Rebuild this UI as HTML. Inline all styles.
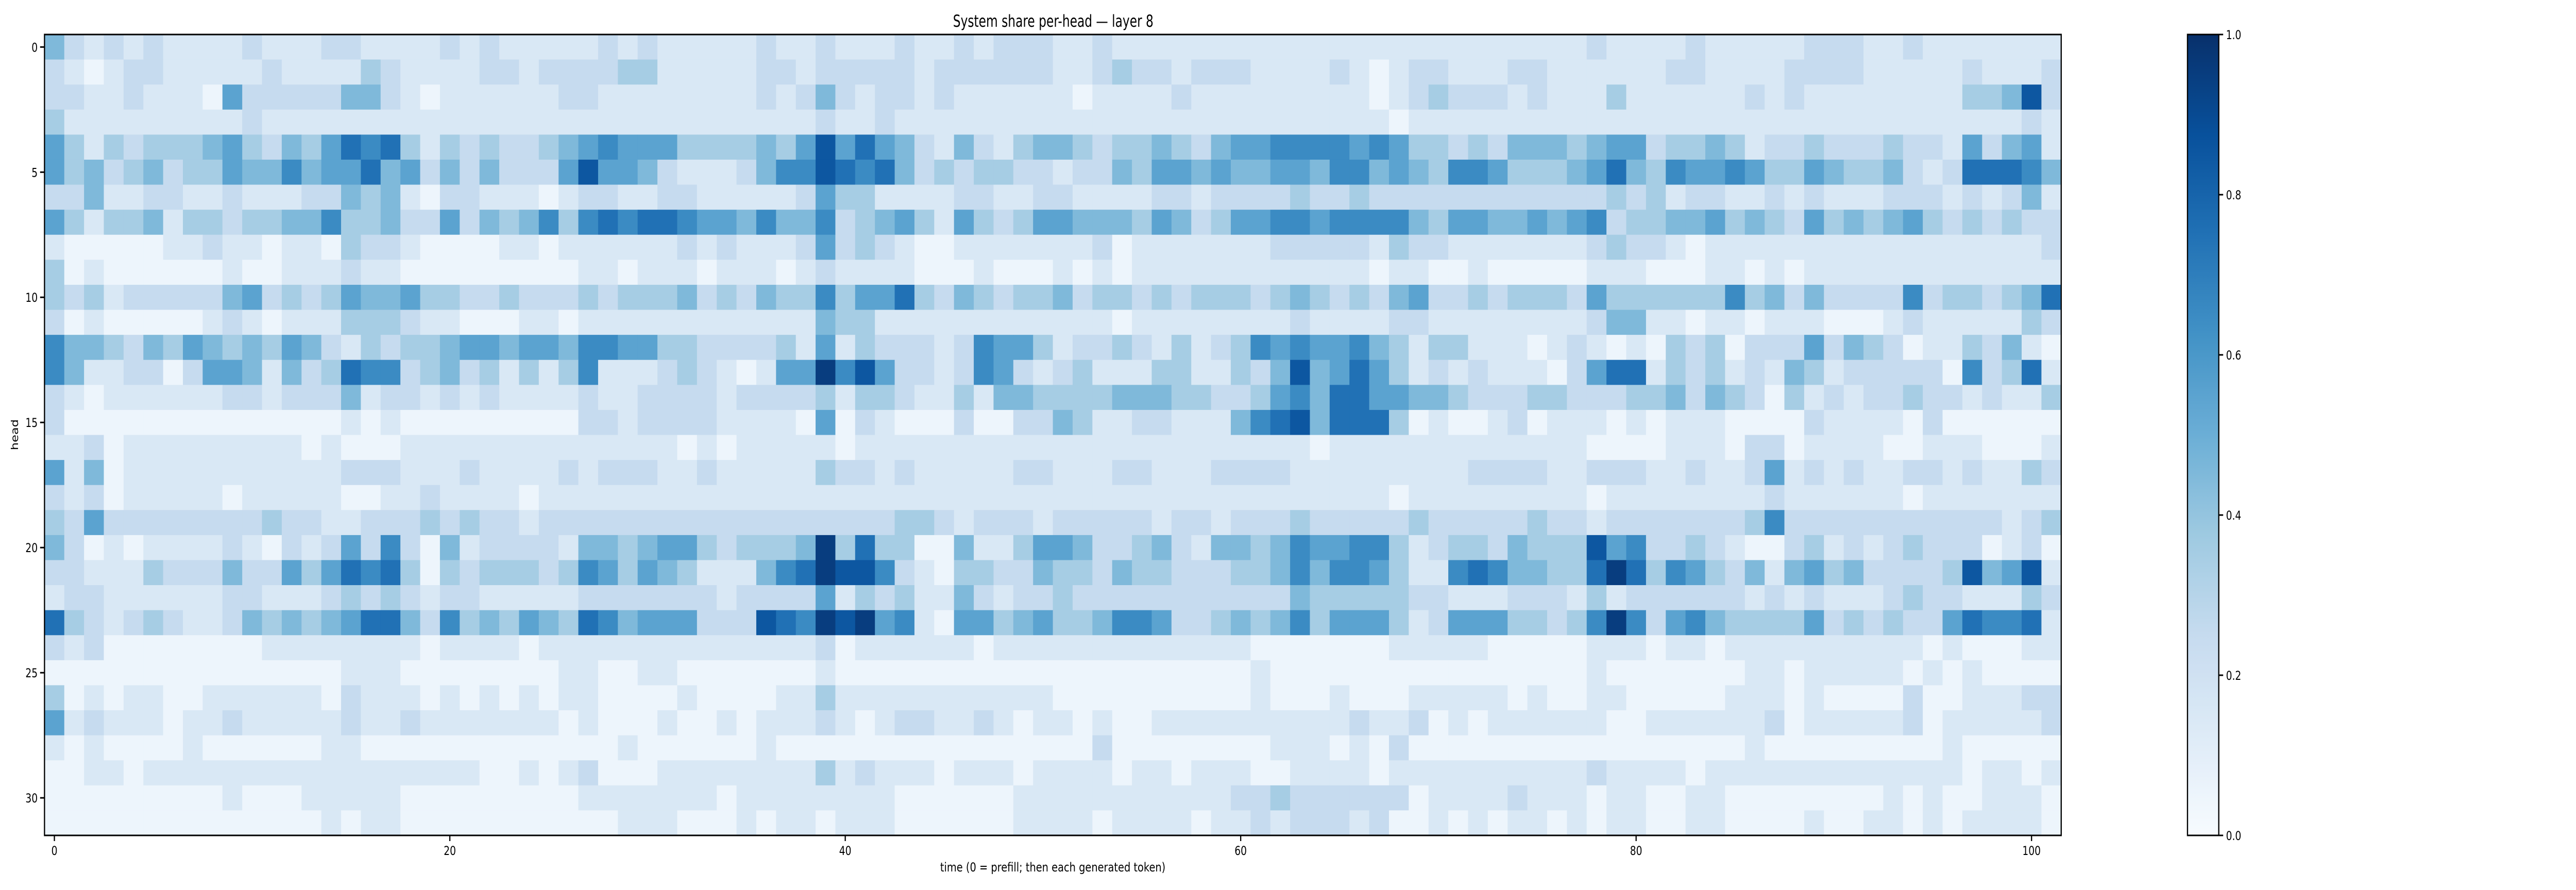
<!DOCTYPE html>
<html><head><meta charset="utf-8"><title>System share per-head — layer 8</title>
<style>html,body{margin:0;padding:0;background:#fff;overflow:hidden;width:100%;height:100%;}svg{display:block;width:100vw;height:100vh;}</style></head>
<body>
<svg id="chart" xmlns="http://www.w3.org/2000/svg" viewBox="0 0 6425 1728" preserveAspectRatio="none" font-family="'DejaVu Sans', 'Liberation Sans', sans-serif">
<rect width="6425" height="1728" fill="#fff"/>
<text x="2627" y="52" font-size="32" text-anchor="middle" textLength="500" lengthAdjust="spacingAndGlyphs" fill="#000">System share per-head — layer 8</text>
<g id="cells"></g>
<g id="axes"></g>
<defs><linearGradient id="cbgrad" x1="0" y1="1" x2="0" y2="0"></linearGradient></defs>
<g id="cbar"></g>
<text x="2626" y="1692" font-size="24" text-anchor="middle" textLength="562" lengthAdjust="spacingAndGlyphs" fill="#000">time (0 = prefill; then each generated token)</text>
<text transform="translate(45,844) rotate(-90)" font-size="24" text-anchor="middle" fill="#000">head</text>
</svg>
<script>
// value level per cell: digit d -> share (d+0.5)/10 ; rows = heads 0..31, columns = time 0..101
const shareRows = [
"42121211112111221 11121211111212111 11211211121121222 11211111111111111 11111111112111121 11112221121111111",
"21012211111211113 21111221222233111 11221222221222222 11232212221111210 12211122111111221 11122221111121112",
"22112111052222244 21011111122111111 11212421221211111 10111121111111110 12322212111311111 12121111111133482",
"31111111112111111 11111111111111111 11111211211111111 11111111111111111 01111111111111111 11111111111111121",
"53132333453243576 73132322345655533 33435857542142134 43233432455666656 53323244434552334 31223222322152451",
"53423423354464557 45242422258554211 12466876742323322 12243554544554664 54366533345743655 65335433421277764",
"22411221121112243 41022111012211221 11112533111122112 21111221222232232 22222222222323122 11212111222121241",
"53133413323344633 42252434636767765 54644623453153235 54443542355665666 64355445456233445 34325343453232322",
"10000011211011032 21000011011111121 21112523210011111 11201111111222221 32211111112322101 11111111111111112",
"30100000010011121 10000000001101110 11101211110001000 10101111111111110 11001000001110001 10101111111111111",
"32312222245232354 45332232223233342 32433635573243233 42332323332343232 45223233325333333 63424222262332347",
"20100000121011133 32110001101111111 11111433111111111 11101111111121111 22111111112441101 10111000121111132",
"64432435434354213 23345545546655332 22231513222126553 12232131236565564 31331110121010323 02225243201132410",
"64112202554142376 62342313136111232 10155968522126521 23111331132484575 31212111025771323 12143122222062371",
"21011111122122241 22121211112112222 12222313321131443 33344433223564775 54432223322233424 32031212232212113",
"20000000000000010 10000000002212222 11110502100020022 43112211146784777 30100120111010111 00002111102000000",
"11201111111110100 01111111111111101 01111101111111111 11111111111110111 11111111110000111 02201111001110001",
"51401111111111122 21112111121222112 11111322121111122 11122111222211111 11112222112221121 12512121122121132",
"21201111101111100 11211110111111111 11111111111111111 11111111111111111 01111111110111111 11211111101111111",
"32522222222322112 22323221222222222 22222222233212221 22222122122232222 23222223221222222 23622222222222123",
"42010111121021252 62041222214434553 23334937330041135 54223421443465566 31233243338562232 10023121232220120",
"22111322242253576 73032333236535431 11467988621033224 33243322233464665 31167644337973653 24145342222384581",
"12211111122111232 32122111112222222 12222513231142122 32222222222243333 32211122213122222 21212111232211132",
"73212321124343457 74263435437645552 22876989561055345 33466522343463555 31255533236962564 33335232322576671",
"21200000000111111 11011110111111111 11111201111110111 11111111110000000 11111000001110110 11111111110100011",
"00000000000000011 10000000011001100 00000100000000000 00000000001000000 00000000001000000 01101111101010000",
"30101100111111021 11010101011000010 00011311111111111 00000000001000100 01111101001100000 11101000020011122",
"51211101121111121 12111111101000100 10111210122112101 10100111111111121 12010111111001111 11201111120111112",
"10100001000000110 00000000000010000 00100000000000000 00200000000111010 20000000000000000 01000000000100000",
"00110111111111111 11111001012000111 11111312111011101 11101101110011110 11111111112111101 11111111111101101",
"00000000010001111 10000000001111111 01111111100000011 11111111122322222 20111121110110011 00000000101001110",
"00000000000000101 10000000000011100 01011011100000011 11011110112122212 00101011010110011 00001001101011110"
];
const xTickValues = [0, 20, 40, 60, 80, 100];
const yTickValues = [0, 5, 10, 15, 20, 25, 30];
const cbarTickValues = [0.0, 0.2, 0.4, 0.6, 0.8, 1.0];
const cbarTickLabels = ["0.0", "0.2", "0.4", "0.6", "0.8", "1.0"];

const NS = "http://www.w3.org/2000/svg";
const X0 = 111, X1 = 5141, Y0 = 67, Y1 = 1622;
const values = shareRows.map(r => r.replace(/ /g, '').split('').map(c => (parseInt(c, 10) + 0.5) / 10));
const nRows = values.length;
const nCols = Math.max(...values.map(r => r.length));
const cw = (X1 - X0) / nCols, ch = (Y1 - Y0) / nRows;
function xScale(t) { return X0 + (t + 0.5) * cw; }
function yScale(h) { return Y0 + (h + 0.5) * ch; }

const blues = [[247,251,255],[222,235,247],[198,219,239],[158,202,225],[107,174,214],[66,146,198],[33,113,181],[8,81,156],[8,48,107]];
function color(v) {
  v = Math.max(0, Math.min(1, v));
  const p = v * (blues.length - 1), i = Math.min(blues.length - 2, Math.floor(p)), f = p - i;
  const c = blues[i].map((a, k) => Math.round(a + (blues[i + 1][k] - a) * f));
  return `rgb(${c[0]},${c[1]},${c[2]})`;
}
function mk(tag, attrs, parent) {
  const el = document.createElementNS(NS, tag);
  for (const k in attrs) el.setAttribute(k, attrs[k]);
  parent.appendChild(el);
  return el;
}
const cells = document.getElementById('cells');
values.forEach((row, h) => row.forEach((v, t) => {
  const r = mk('rect', {x: (xScale(t) - cw / 2).toFixed(2), y: (yScale(h) - ch / 2).toFixed(2), width: (cw + 0.6).toFixed(2), height: (ch + 0.6).toFixed(2), fill: color(v)}, cells);
  
  
}));

const axes = document.getElementById('axes');
const frame = mk('rect', {x: X0, y: Y0, width: X1 - X0, height: Y1 - Y0, fill: 'none', stroke: '#000', 'stroke-width': 3}, axes);


xTickValues.forEach(t => {
  const x = xScale(t);
  const tk = mk('line', {x1: x, y1: Y1, x2: x, y2: Y1 + 11, stroke: '#000', 'stroke-width': 3}, axes);
  
  
  const lb = mk('text', {x: x, y: 1660, 'font-size': 24, 'text-anchor': 'middle', fill: '#000'}, axes);
  lb.textContent = String(t);
  
  
});
yTickValues.forEach(h => {
  const y = yScale(h);
  const tk = mk('line', {x1: X0 - 11, y1: y, x2: X0, y2: y, stroke: '#000', 'stroke-width': 3}, axes);
  
  
  const lb = mk('text', {x: X0 - 17, y: y + 9, 'font-size': 24, 'text-anchor': 'end', fill: '#000'}, axes);
  lb.textContent = String(h);
  
  
});

// colorbar
const CB0 = 5456, CB1 = 5534;
const grad = document.getElementById('cbgrad');
for (let i = 0; i <= 40; i++) {
  mk('stop', {offset: (i / 40).toFixed(3), 'stop-color': color(i / 40)}, grad);
}
const cbar = document.getElementById('cbar');
const cbRect = mk('rect', {x: CB0, y: Y0, width: CB1 - CB0, height: Y1 - Y0, fill: 'url(#cbgrad)', stroke: '#000', 'stroke-width': 3}, cbar);


function cbY(v) { return Y1 - v * (Y1 - Y0); }
cbarTickValues.forEach((v, i) => {
  const y = cbY(v);
  const tk = mk('line', {x1: CB1, y1: y, x2: CB1 + 11, y2: y, stroke: '#000', 'stroke-width': 3}, cbar);
  
  
  const lb = mk('text', {x: CB1 + 18, y: y + 9, 'font-size': 24, fill: '#000'}, cbar);
  lb.textContent = cbarTickLabels[i];
  
  
});
</script>
</body></html>
